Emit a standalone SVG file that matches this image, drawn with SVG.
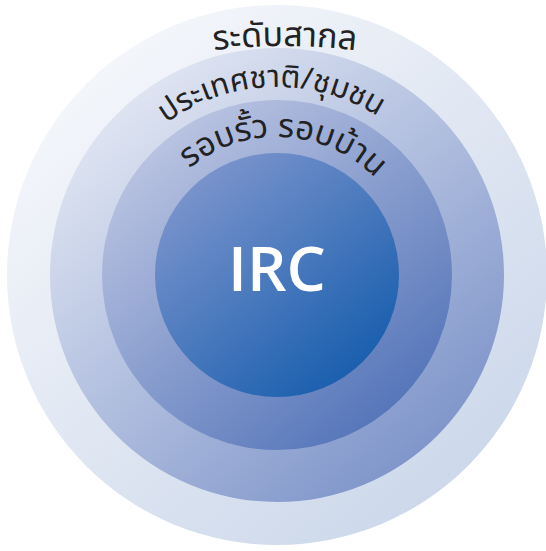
<svg xmlns="http://www.w3.org/2000/svg" width="546" height="551" viewBox="0 0 546 551">
<defs>
<linearGradient id="g1" x1="0.15" y1="0.08" x2="0.85" y2="0.92"><stop offset="0" stop-color="#f5f7fb"/><stop offset="1" stop-color="#cbd7ea"/></linearGradient>
<linearGradient id="g2" x1="0.15" y1="0.08" x2="0.85" y2="0.92"><stop offset="0" stop-color="#e2e7f3"/><stop offset="1" stop-color="#7c93c9"/></linearGradient>
<linearGradient id="g3" x1="0.15" y1="0.08" x2="0.85" y2="0.92"><stop offset="0" stop-color="#bdc6e3"/><stop offset="1" stop-color="#5273b8"/></linearGradient>
<linearGradient id="g4" x1="0.15" y1="0.08" x2="0.85" y2="0.92"><stop offset="0" stop-color="#7d95cd"/><stop offset="1" stop-color="#165dad"/></linearGradient>
<path id="p1" d="M 85 80.3 A 600 600 0 0 1 485 80.3"/>
<path id="p2" d="M 89 275 A 188 188 0 0 1 465 275"/>
<path id="p3" d="M 139 275 A 138 138 0 0 1 415 275"/>
</defs>
<style>
.lbl{font-family:"Noto Sans Thai","Noto Sans","DejaVu Sans",sans-serif;fill:#222;text-anchor:middle}
.core{font-family:"Open Sans","Noto Sans",sans-serif;font-weight:600;font-size:62px;fill:#fff;text-anchor:middle}
</style>
<g id="ring-global">
<circle cx="277" cy="275" r="270" fill="url(#g1)"/>
<text class="lbl" font-size="34"><textPath href="#p1" startOffset="50%">ระดับสากล</textPath></text>
</g>
<g id="ring-national">
<circle cx="277" cy="275" r="227" fill="url(#g2)"/>
<text class="lbl" font-size="31"><textPath href="#p2" startOffset="49%">ประเทศชาติ/ชุมชน</textPath></text>
</g>
<g id="ring-neighbourhood">
<circle cx="277" cy="275" r="175" fill="url(#g3)"/>
<text class="lbl" font-size="33"><textPath href="#p3" startOffset="51.6%">รอบรั้ว รอบบ้าน</textPath></text>
</g>
<g id="core">
<circle cx="277" cy="275" r="122" fill="url(#g4)"/>
<text class="core" x="277" y="291">IRC</text>
</g>
<g id="connectors"/>
</svg>
